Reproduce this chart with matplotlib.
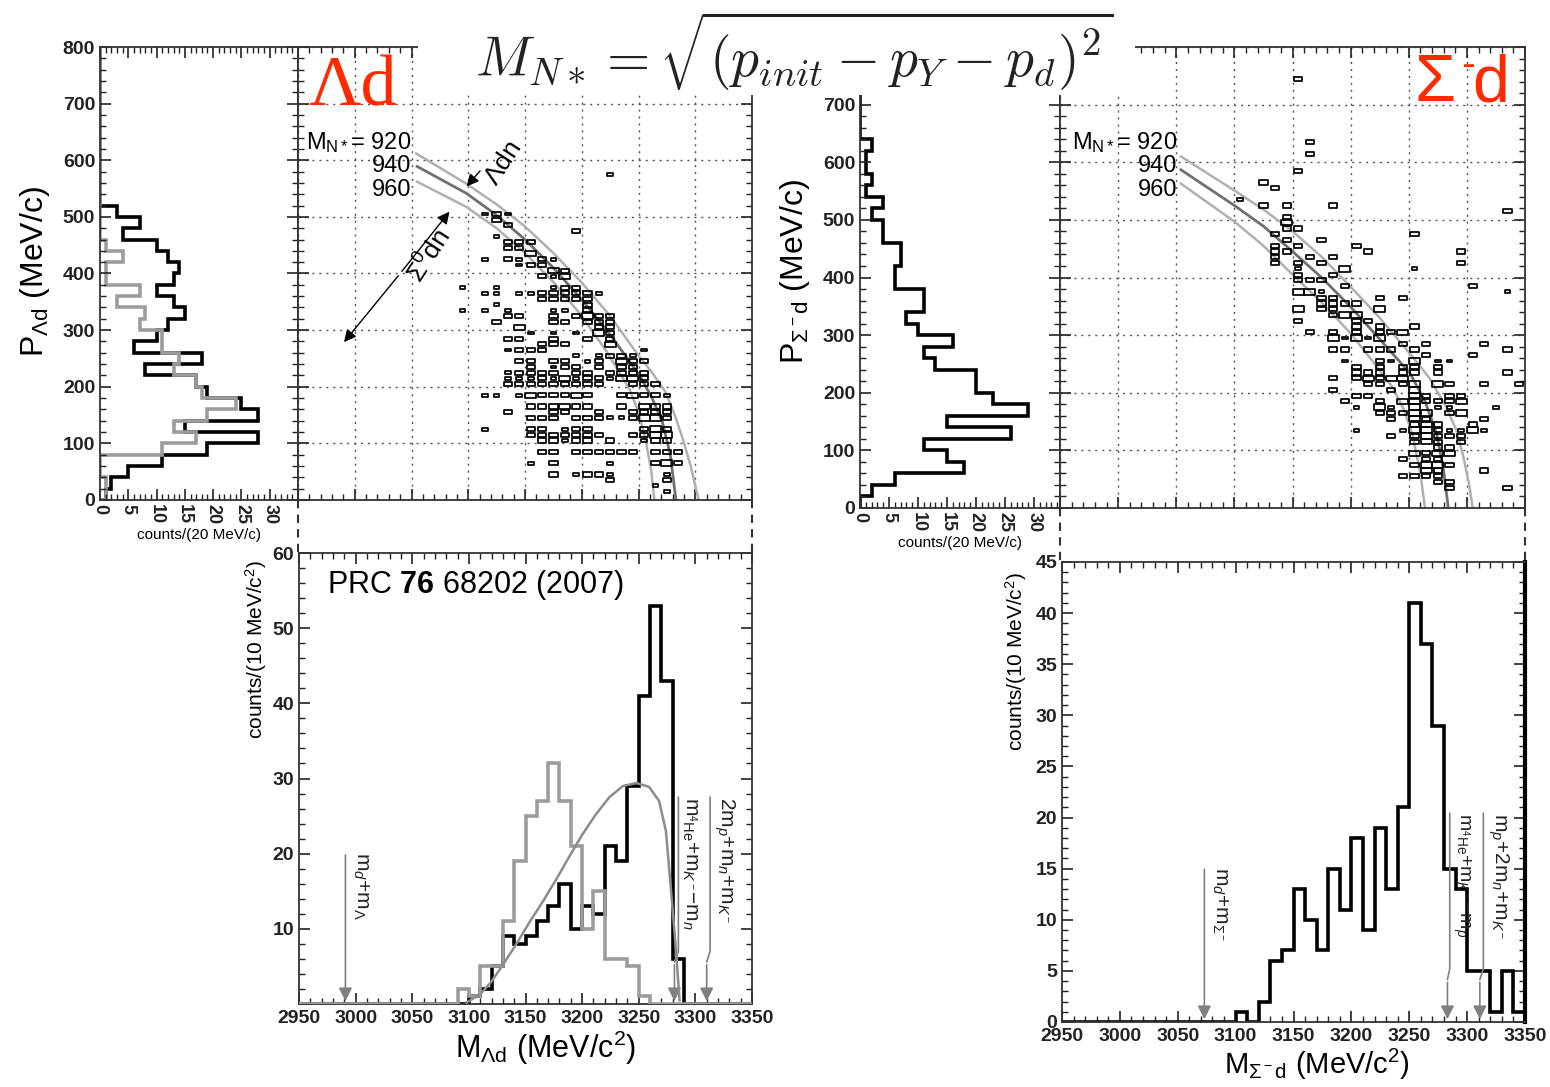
import numpy as np
import matplotlib
matplotlib.use("Agg")
import matplotlib.pyplot as plt
from matplotlib.path import Path
from matplotlib.patches import Rectangle
from matplotlib.lines import Line2D
from matplotlib.ticker import MultipleLocator

plt.rcParams["font.family"] = ["Liberation Sans", "DejaVu Sans"]
plt.rcParams["mathtext.fontset"] = "custom"
plt.rcParams["mathtext.rm"] = "Liberation Sans"
plt.rcParams["mathtext.it"] = "Liberation Sans:italic"
plt.rcParams["mathtext.bf"] = "Liberation Sans:bold"

# ---------------- data ----------------
# momentum projections, 20 MeV/c bins from 0
p_edges = np.arange(0, 820, 20)
lam_p_counts = [1, 2, 5, 11, 19, 28, 15, 28, 25, 19, 17, 8, 18, 6, 10, 12, 15, 13, 10, 13,
                14, 12, 10, 4, 7, 3] + [0] * 14
sig0_p_counts = [1, 1, 0, 0, 11, 17, 13, 19, 24, 18, 17, 13, 14, 11, 11, 7, 8, 3, 7, 1,
                 1, 4, 1] + [0] * 17
sigm_p_counts = [0, 2, 6, 18, 15, 11, 26, 15, 29, 23, 20, 20, 13, 11, 16, 10, 8, 11, 11, 6,
                 6, 7, 7, 4, 4, 2, 4, 1, 2, 1, 1, 2] + [0] * 8

# invariant mass, 10 MeV/c2 bins from 2950
m_edges = np.arange(2950, 3360, 10)
lam_m_counts = [0] * 15 + [1, 2, 5, 9, 8, 9, 11, 13, 16, 10, 13, 12, 21, 19, 29, 41, 53, 43, 6] + [0] * 6
sig0_m_counts = [0] * 14 + [2, 1, 5, 5, 11, 19, 25, 27, 32, 27, 21, 10, 15, 6, 6, 5, 1] + [0] * 9
sigm_m_counts = [0] * 15 + [1, 0, 2, 6, 7, 13, 10, 7, 15, 11, 18, 9, 19, 13, 21, 41, 37, 29, 15, 13,
                            5, 5, 1, 5, 1]

# phase space curve (Lambda d)
ps_m = [3098, 3110, 3119, 3130, 3142, 3154, 3166, 3178, 3189, 3200, 3212, 3224, 3236, 3248,
        3259, 3268, 3274, 3278, 3283, 3286]
ps_c = [0.2, 1.3, 2.8, 5.2, 8, 11, 13.8, 16.8, 19.7, 22.5, 25.2, 27.5, 29, 29.4, 28.9, 27, 23,
        16, 7, 0.5]

# M_N* = 920 / 940 / 960 curves
lam_920_m = [3054, 3098, 3125, 3150, 3175, 3200, 3225, 3250, 3262, 3274, 3282, 3289, 3296, 3303]
lam_920_p = [612, 559, 522, 483, 436, 384, 325, 255, 225, 190, 150, 108, 60, 0]
lam_940_m = [3055, 3098, 3125, 3150, 3175, 3200, 3225, 3251, 3262, 3271, 3278, 3283]
lam_940_p = [589, 542, 503, 460, 410, 354, 292, 220, 180, 138, 80, 0]
lam_960_m = [3055, 3098, 3125, 3150, 3175, 3200, 3222, 3242, 3250, 3256, 3261, 3264]
lam_960_p = [562, 518, 480, 436, 385, 325, 262, 196, 155, 108, 55, 0]
sig_920_m = [3054, 3100, 3125, 3149, 3175, 3200, 3225, 3251, 3268, 3282, 3291, 3297, 3302, 3305]
sig_920_p = [610, 551, 518, 482, 436, 384, 330, 268, 225, 176, 135, 89, 40, 0]
sig_940_m = [3054, 3100, 3125, 3149, 3175, 3200, 3225, 3251, 3264, 3274, 3280, 3284]
sig_940_p = [587, 525, 489, 447, 400, 349, 293, 234, 185, 129, 65, 0]
sig_960_m = [3054, 3100, 3125, 3149, 3175, 3200, 3220, 3236, 3246, 3253, 3260, 3264]
sig_960_p = [563, 497, 455, 407, 357, 303, 252, 210, 170, 129, 60, 0]

# 2D box plots: (mass, momentum, count)
lam_boxes = [
    (3225, 575, 1),
    (3115, 505, 1), (3125, 505, 2), (3135, 505, 1), (3125, 495, 2), (3135, 485, 2), (3195, 475, 2),
    (3125, 465, 1), (3135, 455, 2), (3145, 455, 2), (3155, 455, 2), (3135, 445, 2), (3145, 445, 2),
    (3155, 435, 3),
    (3115, 425, 1), (3135, 425, 2), (3145, 425, 1), (3165, 425, 2), (3175, 425, 1),
    (3145, 415, 1), (3155, 415, 2), (3165, 415, 2), (3175, 405, 3), (3185, 405, 2),
    (3165, 395, 2), (3175, 395, 1), (3185, 395, 3),
    (3095, 375, 1), (3125, 375, 1), (3175, 375, 1), (3185, 375, 2), (3195, 375, 2),
    (3115, 365, 1), (3125, 365, 1), (3145, 365, 1), (3155, 365, 1), (3165, 365, 2), (3175, 365, 2),
    (3185, 365, 2), (3195, 365, 2), (3205, 365, 2), (3215, 365, 1),
    (3165, 355, 2), (3175, 355, 2), (3185, 355, 2), (3195, 355, 2), (3205, 355, 2),
    (3125, 345, 1), (3205, 345, 2),
    (3095, 335, 1), (3115, 335, 1), (3135, 335, 1), (3175, 335, 1), (3185, 335, 1), (3205, 335, 2),
    (3135, 325, 2), (3145, 325, 2), (3175, 325, 2), (3195, 325, 2), (3205, 325, 3), (3215, 325, 2),
    (3225, 325, 2),
    (3125, 315, 2), (3175, 315, 2), (3185, 315, 2), (3205, 315, 2), (3215, 315, 2), (3225, 315, 2),
    (3145, 305, 3), (3215, 305, 2), (3225, 305, 2),
    (3155, 295, 1), (3175, 295, 1), (3195, 295, 1), (3215, 295, 3), (3225, 295, 2),
    (3135, 285, 2), (3145, 285, 2), (3175, 285, 2), (3205, 285, 2), (3225, 285, 2),
    (3165, 275, 2), (3175, 275, 2), (3185, 275, 2), (3225, 275, 3),
    (3135, 265, 1), (3145, 265, 2), (3155, 265, 2), (3165, 265, 2), (3255, 265, 1),
    (3195, 255, 1), (3215, 255, 1), (3225, 255, 2), (3235, 255, 2), (3245, 255, 1),
    (3145, 245, 2), (3155, 245, 2), (3175, 245, 2), (3185, 245, 2), (3205, 245, 1), (3215, 245, 2),
    (3235, 245, 3), (3245, 245, 2), (3255, 245, 2),
    (3155, 235, 2), (3175, 235, 1), (3185, 235, 2), (3195, 235, 2), (3215, 235, 2), (3235, 235, 2),
    (3245, 235, 2),
    (3135, 225, 1), (3145, 225, 2), (3155, 225, 2), (3165, 225, 2), (3175, 225, 2), (3195, 225, 2),
    (3205, 225, 2), (3225, 225, 2), (3235, 225, 2), (3245, 225, 2), (3255, 225, 2),
    (3135, 215, 1), (3145, 215, 1), (3155, 215, 1), (3165, 215, 2), (3175, 215, 1), (3185, 215, 3),
    (3195, 215, 1), (3205, 215, 2), (3215, 215, 2), (3225, 215, 1), (3235, 215, 3), (3245, 215, 3),
    (3255, 215, 2),
    (3135, 205, 2), (3145, 205, 2), (3155, 205, 2), (3165, 205, 2), (3175, 205, 2), (3185, 205, 2),
    (3195, 205, 2), (3205, 205, 2), (3215, 205, 2), (3245, 205, 2), (3255, 205, 2), (3265, 205, 2),
    (3115, 185, 1), (3125, 185, 1), (3145, 185, 1), (3155, 185, 3), (3165, 185, 2), (3175, 185, 2),
    (3185, 185, 2), (3195, 185, 3), (3205, 185, 2), (3235, 185, 2), (3245, 185, 3), (3255, 185, 2),
    (3265, 185, 2), (3275, 185, 1),
    (3155, 165, 2), (3165, 165, 2), (3175, 165, 2), (3185, 165, 3), (3195, 165, 2), (3205, 165, 2),
    (3235, 165, 2), (3255, 165, 3), (3265, 165, 2), (3275, 165, 2),
    (3135, 155, 2), (3175, 155, 2), (3185, 155, 2), (3215, 155, 2), (3245, 155, 2), (3255, 155, 2),
    (3265, 155, 2), (3275, 155, 2),
    (3155, 145, 2), (3165, 145, 2), (3175, 145, 2), (3195, 145, 2), (3205, 145, 2), (3215, 145, 2),
    (3225, 145, 1), (3235, 145, 1), (3245, 145, 2), (3255, 145, 3), (3265, 145, 3), (3275, 145, 2),
    (3115, 125, 1), (3155, 125, 2), (3165, 125, 2), (3185, 125, 1), (3195, 125, 2), (3205, 125, 2),
    (3255, 125, 2), (3265, 125, 3), (3275, 125, 2),
    (3155, 115, 2), (3165, 115, 2), (3175, 115, 2), (3185, 115, 2), (3195, 115, 2), (3205, 115, 2),
    (3215, 115, 2), (3245, 115, 2), (3255, 115, 2), (3265, 115, 3), (3275, 115, 3),
    (3165, 105, 2), (3175, 105, 2), (3185, 105, 1), (3195, 105, 2), (3205, 105, 2), (3225, 105, 2),
    (3255, 105, 1), (3265, 105, 2), (3275, 105, 2),
    (3165, 85, 2), (3175, 85, 2), (3195, 85, 2), (3205, 85, 2), (3215, 85, 2), (3225, 85, 2),
    (3235, 85, 2), (3245, 85, 2), (3265, 85, 2), (3275, 85, 2), (3285, 85, 2),
    (3155, 65, 1), (3175, 65, 2), (3225, 65, 1), (3265, 65, 2), (3275, 65, 3), (3285, 65, 2),
    (3175, 45, 2), (3195, 45, 1), (3205, 45, 2), (3215, 45, 2), (3225, 45, 1), (3275, 45, 1),
    (3225, 35, 2), (3275, 35, 2), (3265, 25, 1), (3275, 15, 1),
]

sig_boxes = [
    (3155, 745, 2), (3165, 635, 2), (3165, 615, 2), (3155, 585, 2), (3125, 565, 2), (3135, 555, 2),
    (3105, 535, 1), (3125, 525, 2), (3145, 525, 2), (3185, 525, 2), (3335, 515, 2),
    (3145, 505, 2), (3145, 495, 3), (3145, 485, 2), (3155, 485, 2), (3135, 475, 2), (3255, 475, 2),
    (3145, 465, 2), (3175, 465, 2), (3135, 455, 2), (3155, 455, 2), (3205, 455, 2),
    (3135, 445, 2), (3145, 445, 2), (3215, 445, 2), (3295, 445, 2),
    (3135, 435, 2), (3165, 435, 2), (3185, 435, 2),
    (3135, 425, 2), (3155, 425, 2), (3175, 425, 2), (3295, 425, 2),
    (3155, 415, 1), (3195, 415, 3), (3255, 415, 1), (3155, 405, 2), (3185, 405, 2),
    (3155, 395, 2), (3165, 395, 2), (3175, 395, 2), (3195, 385, 2), (3305, 385, 2),
    (3155, 375, 3), (3165, 375, 3), (3175, 375, 1), (3335, 375, 1),
    (3175, 365, 2), (3185, 365, 2), (3225, 365, 2), (3245, 365, 2),
    (3175, 355, 2), (3185, 355, 2), (3195, 355, 2), (3205, 355, 2),
    (3155, 345, 3), (3175, 345, 2), (3185, 345, 2), (3225, 345, 3),
    (3185, 335, 2), (3195, 335, 3), (3205, 335, 3),
    (3155, 325, 2), (3205, 325, 2), (3215, 325, 2),
    (3205, 315, 2), (3225, 315, 2), (3255, 315, 2),
    (3165, 305, 2), (3185, 305, 2), (3205, 305, 2), (3225, 305, 2), (3235, 305, 2), (3245, 305, 3),
    (3185, 295, 3), (3195, 295, 1), (3205, 295, 3), (3215, 295, 1), (3225, 295, 3),
    (3245, 285, 2), (3265, 285, 2), (3315, 285, 2),
    (3185, 275, 2), (3195, 275, 2), (3215, 275, 2), (3225, 275, 2), (3235, 275, 2), (3255, 275, 2),
    (3335, 275, 2), (3265, 265, 2), (3305, 265, 2),
    (3195, 255, 1), (3225, 255, 2), (3235, 255, 1), (3255, 255, 3), (3275, 255, 1), (3285, 255, 1),
    (3205, 245, 2), (3225, 245, 2), (3245, 245, 2), (3255, 245, 2), (3275, 245, 2),
    (3205, 235, 2), (3215, 235, 2), (3225, 235, 2), (3245, 235, 2), (3255, 235, 2), (3275, 235, 2),
    (3335, 235, 2),
    (3185, 225, 2), (3205, 225, 2), (3215, 225, 3), (3225, 225, 2), (3235, 225, 3), (3245, 225, 3),
    (3215, 215, 2), (3225, 215, 2), (3245, 215, 2), (3255, 215, 3), (3275, 215, 3), (3285, 215, 2),
    (3315, 215, 2), (3345, 215, 2),
    (3185, 205, 2), (3235, 205, 2), (3255, 205, 3),
    (3205, 195, 2), (3215, 195, 2), (3255, 195, 3), (3265, 195, 2), (3285, 195, 2), (3295, 195, 2),
    (3195, 185, 2), (3225, 185, 2), (3245, 185, 3), (3255, 185, 3), (3265, 185, 2), (3275, 185, 2),
    (3285, 185, 2), (3295, 185, 3),
    (3205, 175, 1), (3225, 175, 3), (3235, 175, 1), (3255, 175, 3), (3275, 175, 1), (3285, 175, 1),
    (3325, 175, 1),
    (3225, 165, 2), (3235, 165, 2), (3245, 165, 2), (3255, 165, 3), (3265, 165, 3), (3285, 165, 2),
    (3295, 165, 3),
    (3235, 155, 2), (3255, 155, 3), (3265, 155, 2), (3315, 155, 2),
    (3255, 145, 2), (3265, 145, 3), (3275, 145, 2), (3305, 145, 2),
    (3205, 135, 1), (3245, 135, 1), (3255, 135, 3), (3265, 135, 3), (3275, 135, 2), (3285, 135, 1),
    (3295, 135, 1), (3305, 135, 3), (3315, 135, 1),
    (3235, 125, 2), (3255, 125, 2), (3265, 125, 3), (3275, 125, 2), (3285, 125, 2), (3295, 125, 2),
    (3255, 115, 2), (3265, 115, 3), (3275, 115, 2), (3295, 115, 2),
    (3275, 105, 2), (3285, 105, 2),
    (3255, 95, 3), (3265, 95, 2), (3275, 95, 3), (3285, 95, 3),
    (3245, 85, 2), (3265, 85, 2), (3275, 85, 2),
    (3255, 75, 2), (3265, 75, 3), (3275, 75, 3), (3285, 75, 2),
    (3265, 65, 3), (3275, 65, 2), (3315, 65, 2),
    (3245, 55, 2), (3255, 55, 2), (3265, 55, 2), (3275, 55, 2),
    (3275, 45, 2), (3285, 45, 2), (3285, 35, 2), (3335, 35, 2),
]

# ---------------- layout ----------------
W, H = 1550, 1087
fig = plt.figure(figsize=(W / 100, H / 100), dpi=100)


def px_rect(x0, y0, x1, y1):
    return [x0 / W, 1 - y1 / H, (x1 - x0) / W, (y1 - y0) / H]


def fx(x):
    return x / W


def fy(y):
    return 1 - y / H


def style(ax):
    ax.tick_params(which="both", direction="in", top=True, right=True, colors="#222222")
    ax.tick_params(which="major", length=8, width=1.2, labelsize=14)
    ax.tick_params(which="minor", length=4, width=1.0)
    for s in ax.spines.values():
        s.set_linewidth(1.3)
        s.set_color("#333333")


def bold_labels(ax):
    for lab in ax.get_xticklabels() + ax.get_yticklabels():
        lab.set_fontweight("bold")


BLACK_LW = 2.6
GRAY = "#9c9c9c"
box_marker = Path([(-1, -0.5), (1, -0.5), (1, 0.5), (-1, 0.5), (-1, -0.5)],
                  [Path.MOVETO, Path.LINETO, Path.LINETO, Path.LINETO, Path.CLOSEPOLY])


def draw_boxes(ax, boxes):
    arr = np.array(boxes, dtype=float)
    sizes = (2.2 + 1.9 * arr[:, 2]) ** 2
    ax.scatter(arr[:, 0], arr[:, 1], s=sizes, marker=box_marker, facecolors="none",
               edgecolors="black", linewidths=1.25, zorder=3)


def scatter_panel(ax, boxes, curves):
    ax.set_xlim(2950, 3350)
    ax.set_ylim(0, 800)
    ax.xaxis.set_major_locator(MultipleLocator(50))
    ax.xaxis.set_minor_locator(MultipleLocator(10))
    ax.yaxis.set_major_locator(MultipleLocator(100))
    ax.yaxis.set_minor_locator(MultipleLocator(20))
    style(ax)
    ax.tick_params(labelleft=False, labelbottom=False)
    ax.grid(True, which="major", color="#555555", linestyle=(0, (1.5, 3.5)), linewidth=1.0)
    for (m, p), c, lw in zip(curves, ["#b0b0b0", "#707070", "#b0b0b0"], [1.8, 2.0, 1.8]):
        ax.plot(m, p, color=c, lw=lw, zorder=2)
    draw_boxes(ax, boxes)


def proj_panel(ax, hists, xmax, ytop):
    for vals, col in hists:
        ax.stairs(vals, p_edges, orientation="horizontal", baseline=0, color=col, lw=BLACK_LW)
    ax.set_xlim(0, xmax)
    ax.set_ylim(0, 800)
    ax.set_yticks(np.arange(0, ytop + 1, 100))
    ax.yaxis.set_minor_locator(MultipleLocator(20))
    ax.set_xticks(np.arange(0, 31, 5))
    ax.xaxis.set_minor_locator(MultipleLocator(1))
    style(ax)
    ax.tick_params(axis="x", labelrotation=-90, labelsize=13, pad=3)
    bold_labels(ax)


def mass_panel(ax, ymax, ymajor, yminor, ylabels):
    ax.set_xlim(2950, 3350)
    ax.set_ylim(0, ymax)
    ax.set_xticks(np.arange(2950, 3351, 50))
    ax.xaxis.set_minor_locator(MultipleLocator(10))
    ax.set_yticks(np.arange(0, ymax + 0.1, ymajor))
    ax.set_yticklabels(ylabels)
    ax.yaxis.set_minor_locator(MultipleLocator(yminor))
    style(ax)
    ax.tick_params(axis="x", pad=4)
    bold_labels(ax)


def mass_arrow(ax, x, ytop, label, xtext, ybend=None, xline=None, fs=15):
    col = "#808080"
    if ybend is None:
        ax.annotate("", xy=(x, 0), xytext=(x, ytop),
                    arrowprops=dict(arrowstyle="-|>", color=col, lw=1.2, mutation_scale=20))
    else:
        ax.plot([xline, xline, x], [ytop, ybend, ybend * 0.8], color=col, lw=1.2)
        ax.annotate("", xy=(x, 0), xytext=(x, ybend * 0.8),
                    arrowprops=dict(arrowstyle="-|>", color=col, lw=1.2, mutation_scale=20))
    ax.text(xtext, ytop, label, rotation=-90, ha="left", va="top", fontsize=fs,
            color="#222222", zorder=6)


# ---------- left block: Lambda d ----------
axLh = fig.add_axes(px_rect(100, 47, 298, 500))
proj_panel(axLh, [(lam_p_counts, "black"), (sig0_p_counts, GRAY)], 35, 800)
axLh.set_xlabel("counts/(20 MeV/c)", fontsize=11, labelpad=3)

axLs = fig.add_axes(px_rect(298, 47, 752, 500))
scatter_panel(axLs, lam_boxes, [(lam_920_m, lam_920_p), (lam_940_m, lam_940_p),
                                (lam_960_m, lam_960_p)])
axLs.annotate("", xy=(2989, 275), xytext=(3040, 400),
              arrowprops=dict(arrowstyle="-|>", color="black", lw=1.0, mutation_scale=18))
axLs.annotate("", xy=(3085, 513), xytext=(3040, 400),
              arrowprops=dict(arrowstyle="-|>", color="black", lw=1.0, mutation_scale=18))
axLs.annotate("", xy=(3097, 550), xytext=(3112, 585),
              arrowprops=dict(arrowstyle="-|>", color="black", lw=1.0, mutation_scale=18))
axLs.text(3131, 595, r"$\Lambda$dn", rotation=57, fontsize=19, ha="center", va="center")
axLs.text(3066, 430, r"$\Sigma^0$dn", rotation=57, fontsize=19, ha="center", va="center")

axLb = fig.add_axes(px_rect(299, 553, 752, 1004))
axLb.stairs(lam_m_counts, m_edges, baseline=0, color="black", lw=BLACK_LW, zorder=2)
axLb.stairs(sig0_m_counts, m_edges, baseline=0, color=GRAY, lw=BLACK_LW, zorder=3)
axLb.plot(ps_m, ps_c, color="#8c8c8c", lw=1.8, zorder=4)
mass_panel(axLb, 60, 10, 2, ["", "10", "20", "30", "40", "50", "60"])
mass_arrow(axLb, 2991, 20.2, r"m$_d$+m$_\Lambda$", 2996)
mass_arrow(axLb, 3281.5, 27.5, r"m$_{^4\mathrm{He}}$+m$_{K^-}$$-$m$_n$", 3286,
           ybend=7, xline=3285)
mass_arrow(axLb, 3310, 27.5, r"2m$_p$+m$_n$+m$_{K^-}$", 3315, ybend=7, xline=3313)
axLb.text(2975, 55.7, r"PRC $\mathbf{76}$ 68202 (2007)", fontsize=22, ha="left", va="center")

# ---------- right block: Sigma- d ----------
axRh = fig.add_axes(px_rect(860, 47, 1060, 508))
proj_panel(axRh, [(sigm_p_counts, "black")], 34.5, 700)
axRh.spines["top"].set_visible(False)
axRh.set_xlabel("counts/(20 MeV/c)", fontsize=11, labelpad=3)

axRs = fig.add_axes(px_rect(1060, 47, 1525, 508))
scatter_panel(axRs, sig_boxes, [(sig_920_m, sig_920_p), (sig_940_m, sig_940_p),
                                (sig_960_m, sig_960_p)])

axRb = fig.add_axes(px_rect(1062, 562, 1525, 1022))
axRb.stairs(sigm_m_counts, m_edges, baseline=0, color="black", lw=BLACK_LW, zorder=2)
mass_panel(axRb, 45, 5, 1, [str(v) for v in range(0, 46, 5)])
axRb.spines["right"].set_linewidth(3.0)
axRb.spines["right"].set_color("black")
mass_arrow(axRb, 3073, 15.2, r"m$_d$+m$_{\Sigma^-}$", 3078)
mass_arrow(axRb, 3283, 20.4, r"m$_{^4\mathrm{He}}$+m$_{K^-}$$-$m$_p$", 3286.5,
           ybend=5.2, xline=3285, fs=14)
mass_arrow(axRb, 3311, 20.4, r"m$_p$+2m$_n$+m$_{K^-}$", 3316, ybend=5.2, xline=3314)

# ---------- axis titles ----------
fig.text(fx(35), fy(272), r"P$_{\Lambda \mathrm{d}}$ (MeV/c)", rotation=90, fontsize=23,
         ha="center", va="center")
fig.text(fx(795), fy(272), r"P$_{\Sigma^- \mathrm{d}}$ (MeV/c)", rotation=90, fontsize=23,
         ha="center", va="center")
fig.text(fx(256), fy(650), r"counts/(10 MeV/c$^2$)", rotation=90, fontsize=15,
         ha="center", va="center")
fig.text(fx(1016), fy(662), r"counts/(10 MeV/c$^2$)", rotation=90, fontsize=15,
         ha="center", va="center")
fig.text(fx(546), fy(1048), r"M$_{\Lambda \mathrm{d}}$ (MeV/c$^2$)", fontsize=22,
         ha="center", va="center")
fig.text(fx(1317), fy(1064), r"M$_{\Sigma^- \mathrm{d}}$ (MeV/c$^2$)", fontsize=21,
         ha="center", va="center")

# red reaction labels
RED = "#ff2a00"
fig.text(fx(308), fy(88), "Λd", family="Liberation Serif", fontsize=52, color=RED,
         ha="left", va="center")
fig.text(fx(1414), fy(84), "Σ", fontsize=48, color=RED, ha="left", va="center")
fig.text(fx(1461), fy(66), "-", fontsize=30, color=RED, ha="left", va="center")
fig.text(fx(1472), fy(84), "d", fontsize=48, color=RED, ha="left", va="center")

# M_N* labels
for xr in (411, 1177):
    fig.text(fx(xr), fy(143), r"M$_{\mathrm{N*}}$= 920", fontsize=17, ha="right", va="center")
    fig.text(fx(xr), fy(166), "940", fontsize=17, ha="right", va="center")
    fig.text(fx(xr), fy(190), "960", fontsize=17, ha="right", va="center")

# dashed connectors between panels
for xc, y0, y1 in [(298, 500, 553), (752, 500, 553), (1060, 508, 562), (1525, 508, 562)]:
    fig.add_artist(Line2D([fx(xc), fx(xc)], [fy(y0), fy(y1)], color="#333333", lw=1.5,
                          linestyle=(0, (4, 3))))

# formula banner
fig.add_artist(Rectangle((fx(418), fy(95)), (1135 - 418) / W, 95 / H, transform=fig.transFigure,
                         facecolor="white", edgecolor="none", zorder=10))
fig.text(fx(794), fy(51), r"$M_{N\ast} = \sqrt{(p_{init} - p_Y - p_d)^2}$", fontsize=40,
         math_fontfamily="cm", ha="center", va="center", color="#222222", zorder=11)

fig.savefig("out.png", dpi=100, facecolor="white")
